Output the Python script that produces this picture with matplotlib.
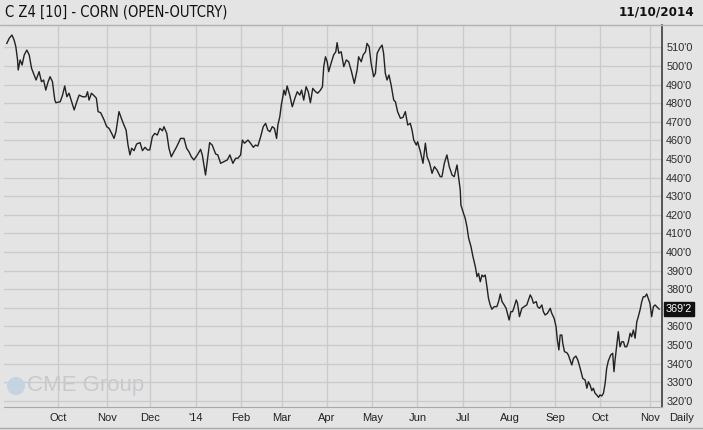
import numpy as np
import matplotlib
matplotlib.use("Agg")
import matplotlib.pyplot as plt
from matplotlib.lines import Line2D
from matplotlib.patches import Ellipse
import matplotlib.transforms as mtransforms
from matplotlib import font_manager
import os

# trading session number (0 = first session of Oct 2013) and settle price, cents/bu
session = [-23.7, -22.6, -21.3, -20.3, -19.5, -18.7, -18.4, -17.5, -16.6, -15.6,
           -14.4, -13.3, -12.2, -11.0, -10.1, -8.7, -7.6, -6.6, -5.6, -4.5,
           -3.6, -2.5, -1.4, -0.9, 1.1, 2.2, 3.2, 4.2, 5.2, 6.4,
           7.6, 8.8, 9.9, 11.5, 13.0, 13.8, 14.5, 15.6, 16.8, 17.9,
           18.7, 19.9, 21.5, 22.7, 23.8, 25.0, 26.1, 27.0, 28.4, 29.5,
           30.7, 31.7, 32.6, 33.5, 34.3, 35.4, 36.6, 38.2, 39.3, 40.5,
           41.6, 42.7, 43.9, 45.0, 46.2, 47.4, 48.6, 49.3, 50.6, 51.6,
           52.7, 53.9, 55.2, 57.0, 58.6, 59.8, 60.9, 62.0, 63.2, 64.8,
           66.3, 67.1, 68.6, 69.4, 70.5, 71.7, 73.3, 74.3, 75.6, 77.1,
           78.7, 79.9, 81.3, 82.6, 83.6, 84.9, 85.7, 86.7, 88.3, 89.5,
           90.8, 91.8, 92.9, 94.2, 95.4, 96.5, 97.5, 98.5, 99.6, 100.6,
           101.6, 102.2, 103.1, 103.8, 104.5, 105.0, 105.7, 106.5, 107.7, 108.9,
           110.1, 111.2, 112.4, 113.2, 114.2, 115.3, 116.3, 117.3, 118.4, 119.7,
           120.7, 122.0, 122.9, 123.5, 124.3, 125.1, 125.8, 126.9, 128.1, 129.1,
           129.7, 130.5, 131.6, 132.8, 134.0, 135.1, 136.4, 137.7, 139.0, 139.7,
           140.9, 141.8, 142.9, 143.6, 144.6, 145.5, 146.7, 147.5, 148.3, 149.5,
           150.6, 151.3, 152.1, 152.9, 153.8, 154.8, 156.0, 156.8, 157.8, 159.1,
           160.3, 161.4, 162.5, 163.7, 164.5, 165.3, 166.5, 167.1, 168.4, 169.6,
           170.7, 171.5, 172.7, 173.8, 174.9, 176.1, 177.6, 178.4, 179.5, 180.7,
           181.8, 183.1, 184.1, 185.4, 186.1, 186.9, 187.2, 188.4, 189.2, 190.0,
           190.8, 191.9, 192.8, 193.9, 194.7, 195.4, 196.2, 197.0, 197.7, 198.5,
           199.3, 200.0, 200.8, 201.6, 202.7, 203.9, 204.7, 205.5, 206.3, 207.3,
           208.2, 209.0, 209.6, 210.4, 211.2, 212.0, 212.9, 213.5, 214.4, 215.5,
           216.6, 217.8, 218.6, 219.4, 220.2, 220.9, 222.2, 222.8, 223.7, 224.8,
           225.5, 226.3, 227.4, 228.7, 229.4, 230.5, 231.4, 232.0, 232.7, 233.3,
           234.1, 234.5, 235.3, 236.4, 237.1, 237.9, 238.7, 239.5, 240.6, 241.5,
           242.6, 243.8, 244.9, 245.7, 246.4, 247.2, 248.0, 248.7, 249.5, 250.3,
           251.1, 251.8, 252.6, 253.4, 254.2, 254.9, 255.7, 256.8, 257.7, 258.3,
           258.8, 259.6, 260.3, 261.1, 261.9, 262.7, 263.4, 264.2, 265.0, 265.8,
           266.5, 267.3, 268.1, 268.9, 269.6, 270.4, 271.2, 271.9, 272.7, 273.5,
           274.2, 275.0, 275.8, 276.6, 277.4, 278.1, 279.3]
price = [512.2, 514.9, 516.7, 514.0, 510.4, 503.3, 497.9, 503.3, 500.6, 506.0,
         508.6, 506.0, 498.8, 495.2, 492.5, 497.0, 491.6, 492.5, 487.1, 491.6,
         494.3, 491.6, 481.7, 480.3, 480.8, 484.4, 489.3, 483.5, 485.4, 480.8,
         476.4, 480.8, 484.4, 483.5, 483.5, 486.2, 481.7, 485.4, 484.1, 482.7,
         475.5, 474.9, 471.0, 467.4, 466.5, 463.8, 461.1, 464.7, 475.5, 471.9,
         468.3, 465.6, 457.5, 452.2, 455.8, 454.5, 458.1, 458.8, 454.5, 456.3,
         454.9, 454.9, 462.0, 463.8, 462.9, 466.5, 465.2, 467.4, 463.8, 455.8,
         451.2, 453.9, 456.6, 461.1, 461.1, 455.8, 453.9, 451.2, 449.5, 452.2,
         455.2, 452.2, 441.4, 448.6, 458.8, 457.5, 452.7, 452.2, 447.7, 448.6,
         449.5, 452.2, 447.7, 450.4, 450.4, 452.2, 460.2, 458.5, 460.2, 458.5,
         456.3, 457.5, 457.0, 462.0, 467.4, 469.2, 465.6, 464.7, 467.4, 466.5,
         461.1, 468.3, 472.8, 479.1, 483.5, 487.1, 484.4, 489.3, 484.4, 478.1,
         482.7, 486.2, 484.4, 487.1, 481.7, 488.9, 486.2, 480.3, 488.0, 486.2,
         485.4, 487.1, 488.9, 499.7, 505.0, 502.3, 497.0, 501.5, 506.0, 507.7,
         512.6, 506.9, 507.7, 499.7, 503.3, 502.3, 497.0, 490.7, 497.9, 505.0,
         502.3, 506.0, 507.7, 512.2, 510.4, 501.5, 494.3, 496.1, 506.9, 509.6,
         511.3, 506.9, 496.1, 492.5, 495.2, 489.8, 481.7, 480.8, 475.5, 471.9,
         472.4, 475.5, 468.3, 469.2, 465.6, 460.2, 457.5, 459.3, 453.9, 447.7,
         458.5, 451.2, 447.7, 442.3, 445.9, 444.1, 440.5, 440.5, 447.7, 452.2,
         445.9, 441.4, 440.5, 446.8, 440.5, 433.3, 425.3, 420.8, 418.1, 413.6,
         407.4, 402.8, 397.5, 392.1, 386.7, 388.5, 384.0, 387.6, 386.7, 387.6,
         381.3, 375.1, 371.5, 369.2, 370.6, 370.6, 373.3, 377.4, 373.3, 371.5,
         369.7, 366.1, 363.4, 367.9, 367.9, 370.6, 374.2, 372.4, 365.2, 369.7,
         370.6, 371.5, 374.2, 376.9, 375.1, 372.4, 373.3, 370.6, 369.7, 371.5,
         367.9, 366.1, 367.0, 369.7, 367.0, 364.3, 359.8, 352.7, 347.3, 355.3,
         355.3, 350.9, 346.4, 345.8, 344.6, 341.9, 339.2, 342.8, 344.0, 341.9,
         337.4, 332.0, 331.1, 326.7, 330.2, 328.4, 325.4, 326.7, 324.0, 323.1,
         321.8, 323.1, 322.5, 324.0, 329.4, 337.4, 341.5, 344.6, 345.5, 335.6,
         341.9, 350.0, 357.1, 349.0, 351.7, 351.7, 349.0, 349.0, 351.7, 356.3,
         354.4, 358.0, 353.6, 362.5, 365.2, 368.8, 373.3, 375.9, 375.9, 377.4,
         375.1, 372.4, 365.2, 370.6, 371.5, 370.6, 369.25]

# first session of each month
month_start = [0, 23, 43, 64, 85, 104, 125, 146, 167, 188, 210, 231, 252, 275]
month_label = ["Oct", "Nov", "Dec", "'14", "Feb", "Mar", "Apr", "May", "Jun",
               "Jul", "Aug", "Sep", "Oct", "Nov"]
price_ticks = list(range(320, 520, 10))

title = "C Z4 [10] - CORN (OPEN-OUTCRY)"
as_of = "11/10/2014"

bg = "#e4e4e4"
grid_c = "#cbcbcb"
arial = ["Liberation Sans", "DejaVu Sans"]

# header fonts: DejaVu condensed faces if the files are there
cond_files = {os.path.basename(f.fname): f.fname for f in font_manager.fontManager.ttflist}
if "DejaVuSansCondensed.ttf" in cond_files:
    title_prop = font_manager.FontProperties(fname=cond_files["DejaVuSansCondensed.ttf"], size=10.5)
else:
    title_prop = font_manager.FontProperties(family="Liberation Sans", size=10.5)
if "DejaVuSansCondensed-Bold.ttf" in cond_files:
    date_prop = font_manager.FontProperties(fname=cond_files["DejaVuSansCondensed-Bold.ttf"], size=9.5)
else:
    date_prop = font_manager.FontProperties(family="Liberation Sans", weight="bold", size=10)

fig = plt.figure(figsize=(7.03, 4.30), dpi=100, facecolor=bg)
ax = fig.add_axes([4 / 703, 23 / 430, 658 / 703, 382 / 430], facecolor=bg)

ax.plot(session, price, color="#222222", lw=1.0, zorder=3)

ax.set_xlim(-25.0, 280.6)
ax.set_ylim(316.6, 522.1)

ax.set_xticks(month_start)
ax.set_xticklabels(month_label, fontsize=8, family=arial, color="#222222")
ax.set_yticks(price_ticks)
ax.set_yticklabels(["%d'0" % v for v in price_ticks], fontsize=7.8,
                   family=arial, color="#2a2a2a")
ax.yaxis.tick_right()
ax.tick_params(axis="y", length=0, pad=3)
ax.tick_params(axis="x", length=0, pad=4)
ax.grid(True, color=grid_c, lw=1.0)
ax.set_axisbelow(True)

ax.spines["left"].set_visible(False)
ax.spines["top"].set_color("#b4b4b4")
ax.spines["bottom"].set_color("#a8a8a8")
ax.spines["right"].set_color("#3c3c3c")
ax.spines["right"].set_linewidth(1.2)

# header separator and bottom rule across the whole figure
fig.add_artist(Line2D([0, 1], [1 - 24.5 / 430] * 2, color="#b4b4b4", lw=1))
fig.add_artist(Line2D([0, 1], [1 - 428 / 430] * 2, color="#a8a8a8", lw=1))

fig.text(5 / 703, 1 - 12 / 430, title, ha="left", va="center",
         fontproperties=title_prop, color="#111111")
fig.text(694 / 703, 1 - 12 / 430, as_of, ha="right", va="center",
         fontproperties=date_prop, color="#111111")
fig.text(682 / 703, 1 - 418 / 430, "Daily", ha="center", va="center",
         fontsize=8, family=arial, color="#222222")

# last price tag
last = price[-1]
tag = "%d'%d" % (int(last), round((last - int(last)) * 8))
trans = mtransforms.blended_transform_factory(ax.transAxes, ax.transData)
ax.text(1.006, last, tag, transform=trans, ha="left", va="center", fontsize=7.8,
        family=arial, color="white", clip_on=False,
        bbox=dict(boxstyle="square,pad=0.18", fc="#111111", ec="#111111"))

# faded watermark
fig.add_artist(Ellipse((16 / 703, 1 - 386 / 430), 18 / 703, 18 / 430,
                       transform=fig.transFigure, fc="#c4d4e0", ec="none"))
fig.text(27 / 703, 1 - 386 / 430, "CME Group", ha="left", va="center",
         fontsize=16, family=arial, color="#c6cacd")

fig.savefig("out.png", dpi=100, facecolor=bg)
